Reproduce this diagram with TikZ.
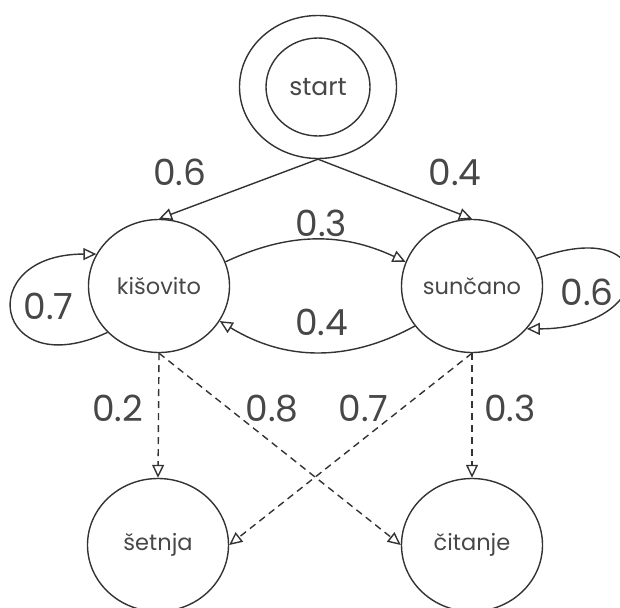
\documentclass[tikz,border=0pt]{standalone}
\usepackage{fontspec}
\setmainfont{Poppins}
\usetikzlibrary{
    arrows.meta,
    shapes.geometric,
    positioning
}
\definecolor{edgegray}{HTML}{333333}
\definecolor{textgray}{HTML}{474747}

\begin{document}
\begin{tikzpicture}[x=1pt, y=1pt,
    state/.style={ellipse, draw=edgegray, line width=1.4pt, minimum width=141pt, minimum height=133pt, inner sep=0pt, text=textgray, font=\fontsize{22.5}{26}\selectfont},
    prob/.style={text=textgray, inner sep=0pt, font=\fontsize{36}{42}\selectfont},
    trans/.style={draw=edgegray, line width=1.4pt, -{Triangle[open, length=13pt, width=12pt]}},
    emit/.style={trans, dash pattern=on 7pt off 5pt}]
                    \useasboundingbox (0, 0) rectangle (620, -607);
                    \node[state, minimum width=157pt, minimum height=143pt] (ring) at (318, -87) {};
                    \node[state, minimum width=104pt, minimum height=98pt, font=\fontsize{25}{28}\selectfont] (start) at (318, -87) {start};
                    \node[state] (kis) at (159, -286) {kišovito};
                    \node[state] (sun) at (472, -286) {sunčano};
                    \node[state] (set) at (158, -545) {šetnja};
                    \node[state] (cit) at (472, -545) {čitanje};
                    \draw
                    (ring.south) edge[trans] node[prob, pos=.87, yshift=39] (p06) {0.6} (kis.north)
                    (ring.south) edge[trans] node[prob, pos=.89, yshift=40] (p04) {0.4} (sun.north)
                    (kis.20) edge[trans, bend left=25] node[prob, midway, xshift=6, yshift=16] (p03) {0.3} (sun.160)
                    (sun.215) edge[trans, bend left=30] node[prob, midway, xshift=5, yshift=30] (p04b) {0.4} (kis.330)
                    (kis.222) edge[trans, out=205, in=180, distance=125pt] node[prob, midway, xshift=36, yshift=7] (p07) {0.7} (kis.153)
                    (sun.23) edge[trans, out=20, in=0, distance=132pt] node[prob, midway, xshift=-41, yshift=-16] (p06b) {0.6} (sun.322)
                    (kis.south) edge[emit] node[prob, pos=.44, xshift=-41] (e02) {0.2} (set.north)
                    (kis.south) edge[emit] node[prob, pos=.29, xshift=43] (e08) {0.8} (cit.west)
                    (sun.south) edge[emit] node[prob, pos=.29, xshift=-38] (e07) {0.7} (set.east)
                    (sun.south) edge[emit] node[prob, pos=.44, xshift=38] (e03) {0.3} (cit.north);
\end{tikzpicture}
\end{document}
